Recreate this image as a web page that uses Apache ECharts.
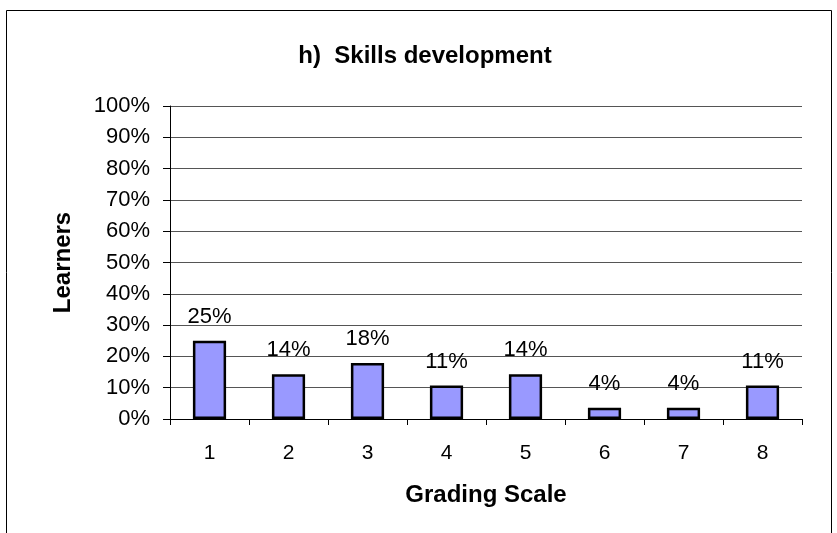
<!DOCTYPE html>
<html>
<head>
<meta charset="utf-8">
<script src="https://cdn.jsdelivr.net/npm/echarts@6/dist/echarts.min.js"></script>
<style>
  html, body { margin: 0; padding: 0; background: #fff; }
  #chart { width: 837px; height: 533px; }
</style>
</head>
<body>
<div id="chart"></div>
<script>
// Grading scale categories and the share of learners in each (%)
const categories = ['1', '2', '3', '4', '5', '6', '7', '8'];
const learnerShare = [25, 14.3, 17.9, 10.7, 14.3, 3.6, 3.6, 10.7];
const yTicks = [0, 10, 20, 30, 40, 50, 60, 70, 80, 90, 100];

const chart = echarts.init(document.getElementById('chart'), null, { renderer: 'canvas' });
const font = 'Liberation Sans, Arial, sans-serif';

chart.setOption({
  animation: false,
  backgroundColor: '#ffffff',
  title: {
    text: 'h)  Skills development',
    left: 420,
    top: 39,
    textAlign: 'center',
    textStyle: { fontFamily: font, fontSize: 24, fontWeight: 'bold', color: '#000' }
  },
  graphic: [{
    type: 'rect',
    shape: { x: 6.5, y: 10.5, width: 825, height: 540 },
    style: { fill: 'none', stroke: '#000', lineWidth: 1 },
    silent: true
  }],
  grid: { left: 170, right: 35, top: 106, bottom: 114, containLabel: false },
  xAxis: {
    type: 'category',
    data: categories,
    name: 'Grading Scale',
    nameLocation: 'middle',
    nameGap: 64,
    nameTextStyle: { fontFamily: font, fontSize: 24, fontWeight: 'bold', color: '#000' },
    axisLine: { lineStyle: { color: '#000', width: 1 } },
    axisTick: { show: true, length: 6, lineStyle: { color: '#000' } },
    axisLabel: { fontFamily: font, fontSize: 21, color: '#000', margin: 24 }
  },
  yAxis: {
    type: 'value',
    min: yTicks[0],
    max: yTicks[yTicks.length - 1],
    interval: yTicks[1] - yTicks[0],
    name: 'Learners',
    nameLocation: 'middle',
    nameGap: 95,
    nameTextStyle: { fontFamily: font, fontSize: 24, fontWeight: 'bold', color: '#000' },
    axisLine: { show: true, lineStyle: { color: '#000', width: 1 } },
    axisTick: { show: true, length: 7, lineStyle: { color: '#000' } },
    axisLabel: { fontFamily: font, fontSize: 22, color: '#000', margin: 20, formatter: '{value}%' },
    splitLine: { show: true, lineStyle: { color: '#555', width: 1 } }
  },
  series: [{
    type: 'bar',
    data: learnerShare,
    barWidth: '42%',
    itemStyle: { color: '#9999ff', borderColor: '#000', borderWidth: 2.5 },
    label: {
      show: true,
      position: 'top',
      distance: 13,
      fontFamily: font,
      fontSize: 22,
      color: '#000',
      formatter: p => Math.round(p.value) + '%'
    }
  }]
});
</script>
</body>
</html>
